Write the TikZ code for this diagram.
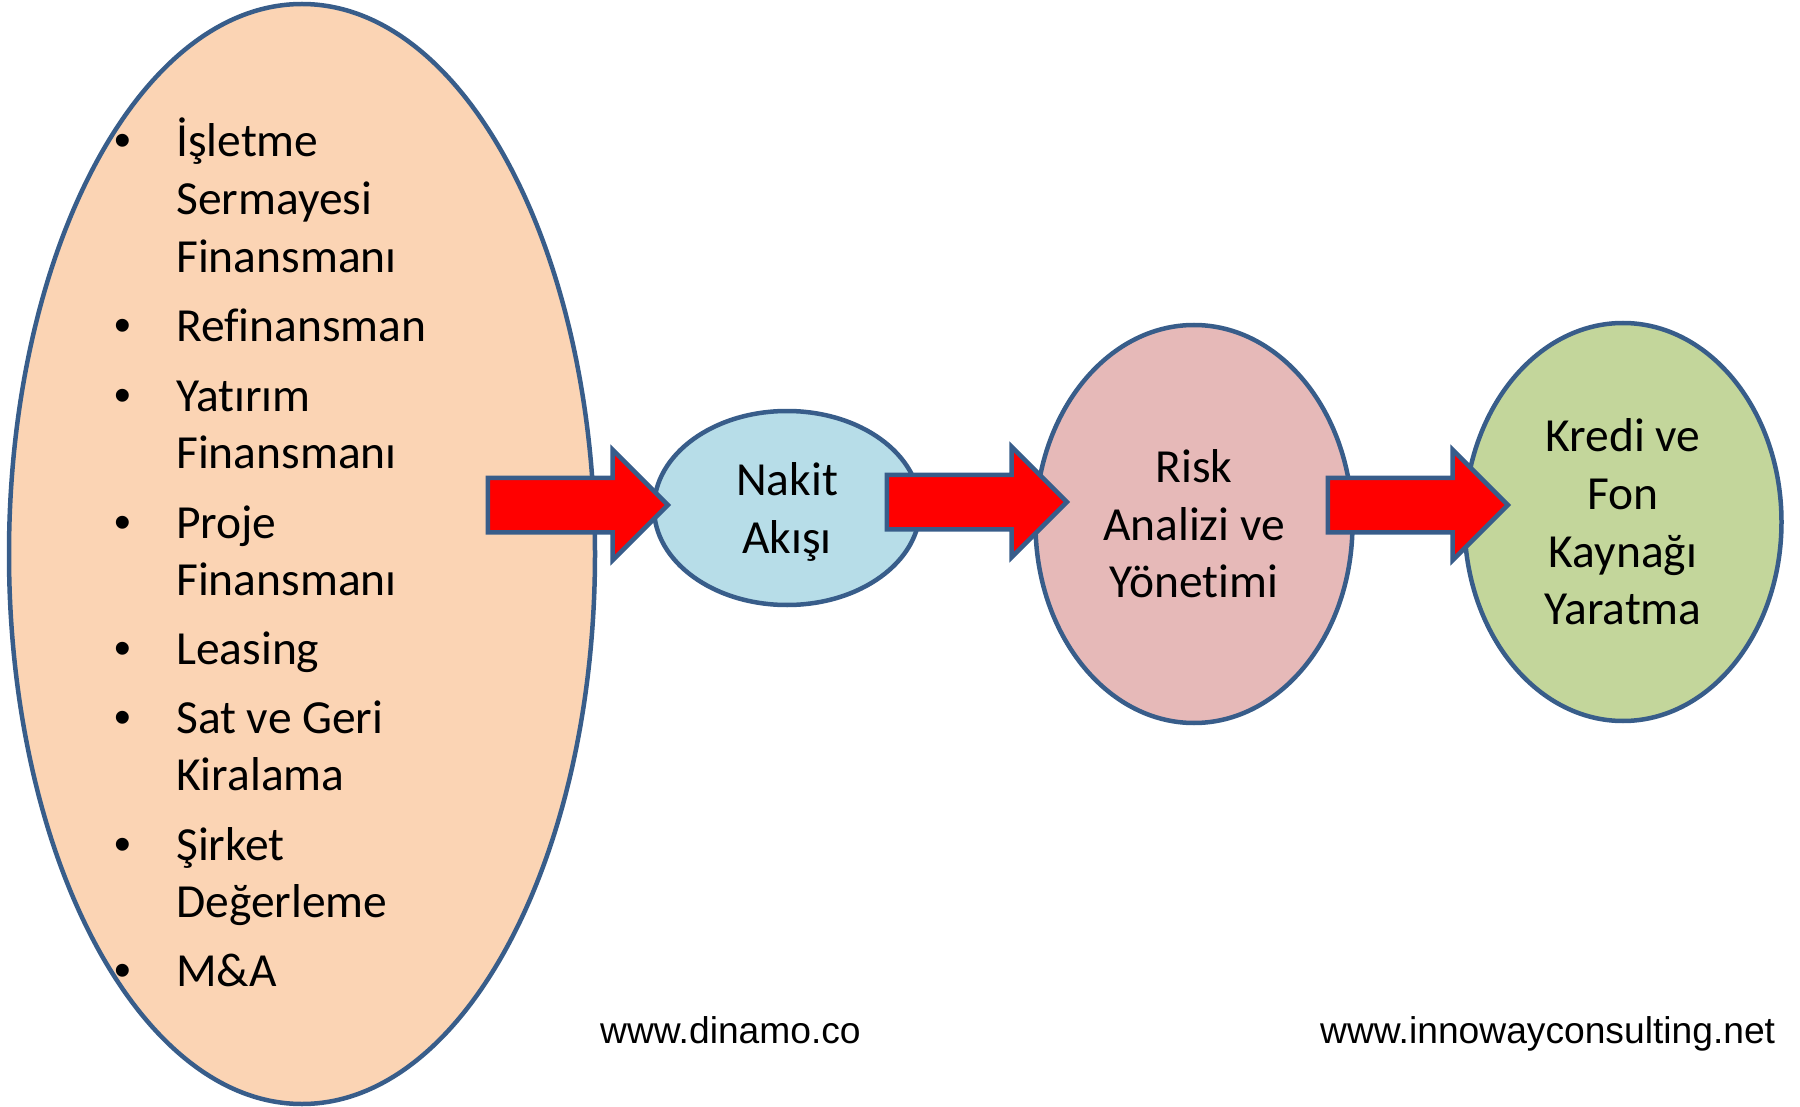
\documentclass[tikz,border=0pt]{standalone}
\usepackage{fontspec}
\setmainfont{Carlito}[Ligatures=NoCommon]
\newfontfamily\urlfont{Liberation Sans}
\usetikzlibrary{shapes.geometric,shapes.arrows}
\definecolor{edgeblue}{HTML}{385D8A}
\definecolor{peach}{HTML}{FBD4B4}
\definecolor{lightblue}{HTML}{B7DDE8}
\definecolor{rose}{HTML}{E6B9B8}
\definecolor{olivegreen}{HTML}{C3D69B}
\begin{document}
\begin{tikzpicture}
	[x=1pt, y=-1pt,
	 blob/.style={ellipse, draw=edgeblue, line width=4.5pt, inner sep=0pt, align=center, font=\fontsize{47.5}{57.6}\selectfont},
	 push/.style={single arrow, draw=edgeblue, fill=red, line width=4.5pt, minimum height=180pt, inner xsep=0pt, inner ysep=25pt, single arrow head extend=28pt, anchor=tip},
	 bitem/.style={anchor=base west, inner sep=0pt, font=\fontsize{47.5}{57.6}\selectfont},
	 bdot/.style={anchor=base, inner sep=0pt, font=\urlfont\fontsize{47.5}{57.6}\selectfont},
	 weblink/.style={anchor=base west, inner sep=0pt, font=\urlfont\fontsize{37.2}{44}\selectfont}]
	\useasboundingbox (0,0) rectangle (1800,1107);
	\node[blob, fill=peach, minimum width=586pt, minimum height=1100pt] (src) at (302,554) {};
	\node[blob, fill=lightblue, minimum width=266pt, minimum height=194pt] (cash) at (787,508) {Nakit\\Akı\smash{ş}ı};
	\node[blob, fill=rose, minimum width=317pt, minimum height=398pt] (risk) at (1194,524) {Risk\\Analizi ve\\Yönetimi};
	\node[blob, fill=olivegreen, minimum width=317pt, minimum height=398pt] (fund) at (1623,522) {Kredi ve\\Fon\\Kaynağı\\Yaratma};
	% list inside the big ellipse
	\foreach \yy [count=\i] in {157,341.5,411,538,664.5,733,860,986}
		\node[bdot] (dot\i) at (123,\yy) {•};
	\foreach \txt/\yy [count=\i] in {İşletme/157, Sermayesi/214.6, Finansmanı/272.2, Refinansman/341.5, Yatırım/411, Finansmanı/468.5, Proje/538, Finansmanı/595.5, Leasing/664.5, Sat ve Geri/733, Kiralama/790.5, Şirket/860, Değerleme/917.5, M\&A/986}
		\node[bitem] (line\i) at (176,\yy) {\txt};
	% block arrows
	\node[push] (a1) at (671,505) {};
	\node[push] (a2) at (1070,502) {};
	\node[push] (a3) at (1511,505) {};
	\node[weblink] (w1) at (600,1043.5) {www.dinamo.co};
	\node[weblink] (w2) at (1320,1043.5) {www.innowayconsulting.net};
\end{tikzpicture}
\end{document}
